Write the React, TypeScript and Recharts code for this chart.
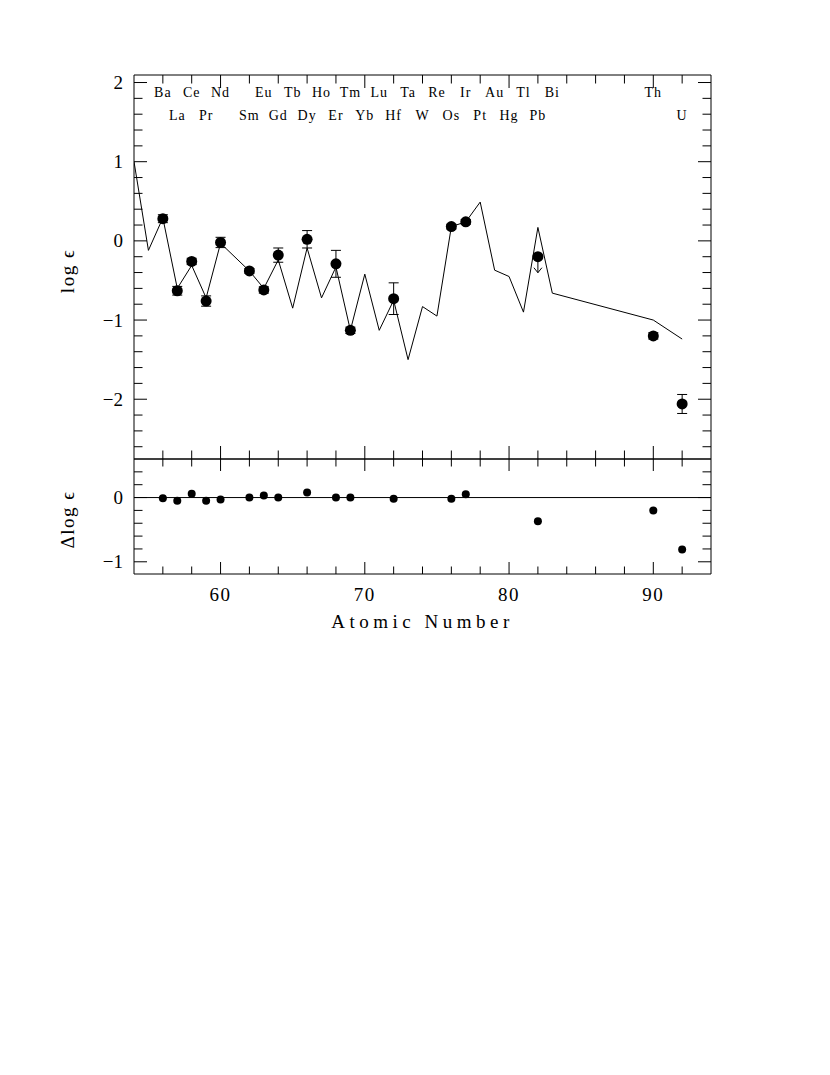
import React from 'react';
import { ComposedChart, Line, Scatter, XAxis, YAxis, ErrorBar, ReferenceLine, Label } from 'recharts';

const FONT = '"Liberation Serif", "DejaVu Serif", serif';

// Scaled solar r-process curve
const solarZ = [54, 55, 56, 57, 58, 59, 60, 62, 63, 64, 65, 66, 67, 68, 69, 70, 71, 72, 73, 74, 75, 76, 77, 78, 79, 80, 81, 82, 83, 90, 92];
const solarVals = [1.0, -0.12, 0.29, -0.6, -0.31, -0.72, -0.03, -0.38, -0.6, -0.24, -0.85, -0.09, -0.72, -0.33, -1.13, -0.42, -1.13, -0.75, -1.5, -0.83, -0.95, 0.18, 0.24, 0.49, -0.37, -0.45, -0.9, 0.17, -0.66, -1.0, -1.24];

// Observed abundances
const obsZ = [56, 57, 58, 59, 60, 62, 63, 64, 66, 68, 69, 72, 76, 77, 90, 92];
const obsVals = [0.28, -0.63, -0.26, -0.76, -0.02, -0.38, -0.62, -0.18, 0.02, -0.29, -1.13, -0.73, 0.18, 0.24, -1.2, -2.06];
const obsErr = [0.05, 0.055, 0.04, 0.065, 0.065, 0.03, 0.04, 0.09, 0.11, 0.17, 0.04, 0.2, 0.03, 0.03, 0.04, 0.12];

// Upper limit
const limitZ = [82];
const limitVals = [-0.2];

// Residuals
const deltaZ = [56, 57, 58, 59, 60, 62, 63, 64, 66, 68, 69, 72, 76, 77, 82, 90, 92];
const deltaVals = [-0.01, -0.05, 0.06, -0.05, -0.03, 0.0, 0.03, 0.0, 0.08, 0.0, 0.0, -0.02, -0.02, 0.05, -0.37, -0.2, -0.81];

// Element name labels
const row1Names = ['Ba', 'Ce', 'Nd', 'Eu', 'Tb', 'Ho', 'Tm', 'Lu', 'Ta', 'Re', 'Ir', 'Au', 'Tl', 'Bi', 'Th'];
const row1Z = [56, 58, 60, 63, 65, 67, 69, 71, 73, 75, 77, 79, 81, 83, 90];
const row2Names = ['La', 'Pr', 'Sm', 'Gd', 'Dy', 'Er', 'Yb', 'Hf', 'W', 'Os', 'Pt', 'Hg', 'Pb', 'U'];
const row2Z = [57, 59, 62, 64, 66, 68, 70, 72, 74, 76, 78, 80, 82, 92];
const row1Y = 1.885;
const row2Y = 1.59;

// Ticks
const xTicks = [56, 58, 60, 62, 64, 66, 68, 70, 72, 74, 76, 78, 80, 82, 84, 86, 88, 90, 92];
const topYTicks = [-2.6, -2.4, -2.2, -2, -1.8, -1.6, -1.4, -1.2, -1, -0.8, -0.6, -0.4, -0.2, 0, 0.2, 0.4, 0.6, 0.8, 1, 1.2, 1.4, 1.6, 1.8, 2];
const botYTicks = [-1, -0.8, -0.6, -0.4, -0.2, 0, 0.2, 0.4];

const xDomain = [54, 94];
const topYDomain = [-2.755, 2.095];
const botYDomain = [-1.19, 0.6];

const solarData = solarZ.map((z, i) => ({ z, y: solarVals[i] }));
const obsData = obsZ.map((z, i) => ({ z, y: obsVals[i], err: obsErr[i] }));
const limitData = limitZ.map((z, i) => ({ z, y: limitVals[i] }));
const deltaData = deltaZ.map((z, i) => ({ z, y: deltaVals[i] }));
const row1Data = row1Z.map((z, i) => ({ z, y: row1Y, name: row1Names[i] }));
const row2Data = row2Z.map((z, i) => ({ z, y: row2Y, name: row2Names[i] }));

const isMajor = (v: number, step: number) => Math.abs(v / step - Math.round(v / step)) < 1e-6;
const fmt = (v: number) => (v < 0 ? '\u2212' + String(Math.abs(v)) : String(v));

type Orient = 'left' | 'right' | 'top' | 'bottom';

const makeTick = (orient: Orient, majorStep: number, showLabel: boolean, majorLen = 13, minorLen = 8.5) => (props: any) => {
  const { x, y, payload } = props;
  const v = payload.value as number;
  const major = isMajor(v, majorStep);
  const len = major ? majorLen : minorLen;
  let x2 = x;
  let y2 = y;
  if (orient === 'left') x2 = x + len;
  if (orient === 'right') x2 = x - len;
  if (orient === 'top') y2 = y + len;
  if (orient === 'bottom') y2 = y - len;
  let label = null;
  if (showLabel && major) {
    if (orient === 'left') {
      label = (
        <text x={x - 11} y={y + 6.5} textAnchor="end" fontFamily={FONT} fontSize={19} fill="#000">
          {fmt(v)}
        </text>
      );
    } else if (orient === 'bottom') {
      label = (
        <text x={x} y={y + 27} textAnchor="middle" fontFamily={FONT} fontSize={19} letterSpacing={1.5} fill="#000">
          {fmt(v)}
        </text>
      );
    }
  }
  return (
    <g>
      <line x1={x} y1={y} x2={x2} y2={y2} stroke="#000" strokeWidth={1} />
      {label}
    </g>
  );
};

const dot = (r: number) => (props: any) => <circle cx={props.cx} cy={props.cy} r={r} fill="#000" />;

const limitShape = (props: any) => {
  const { cx, cy } = props;
  return (
    <g>
      <circle cx={cx} cy={cy} r={5.5} fill="#000" />
      <line x1={cx} y1={cy} x2={cx} y2={cy + 16} stroke="#000" strokeWidth={1} />
      <polyline points={`${cx - 4},${cy + 11} ${cx},${cy + 16} ${cx + 4},${cy + 11}`} fill="none" stroke="#000" strokeWidth={1} />
    </g>
  );
};

const nameShape = (props: any) => (
  <text x={props.cx} y={props.cy + 5} textAnchor="middle" fontFamily={FONT} fontSize={14} letterSpacing={1} fill="#000">
    {props.payload.name}
  </text>
);

const yLabel = (text: string, dyc: number) => (props: any) => {
  const vb = props.viewBox;
  const cx = vb.x + 59;
  const cy = vb.y + vb.height / 2 + dyc;
  return (
    <text x={cx} y={cy} transform={`rotate(-90 ${cx} ${cy})`} textAnchor="middle" dominantBaseline="central" fontFamily={FONT} fontSize={19} letterSpacing={1.5} fill="#000">
      {text}
    </text>
  );
};

const xLabel = (props: any) => {
  const vb = props.viewBox;
  return (
    <text x={vb.x + vb.width / 2} y={vb.y + 54} textAnchor="middle" fontFamily={FONT} fontSize={19} letterSpacing={4.5} fill="#000">
      Atomic Number
    </text>
  );
};

const axisLine = { stroke: '#000', strokeWidth: 1 };

export default function App() {
  return (
    <div style={{ position: 'relative', width: 760, height: 640, fontFamily: FONT }}>
      <div style={{ position: 'absolute', left: 0, top: 0 }}>
        <ComposedChart width={760} height={452} margin={{ top: 66, right: 47, bottom: 0, left: 0 }}>
          <XAxis xAxisId="b" dataKey="z" type="number" domain={xDomain} ticks={xTicks} interval={0} orientation="bottom" height={1}
            allowDataOverflow axisLine={axisLine} tickLine={false} tickSize={0} tickMargin={0} tick={makeTick('bottom', 10, false)} />
          <XAxis xAxisId="t" dataKey="z" type="number" domain={xDomain} ticks={xTicks} interval={0} orientation="top" height={1}
            allowDataOverflow axisLine={axisLine} tickLine={false} tickSize={0} tickMargin={0} tick={makeTick('top', 10, false)} />
          <YAxis yAxisId="l" type="number" domain={topYDomain} ticks={topYTicks} interval={0} orientation="left" width={126}
            allowDataOverflow axisLine={axisLine} tickLine={false} tickSize={0} tickMargin={0} tick={makeTick('left', 1, true)}>
            <Label content={yLabel('log \u03f5', 4)} />
          </YAxis>
          <YAxis yAxisId="r" type="number" domain={topYDomain} ticks={topYTicks} interval={0} orientation="right" width={10}
            allowDataOverflow axisLine={axisLine} tickLine={false} tickSize={0} tickMargin={0} tick={makeTick('right', 1, false)} />
          <Line xAxisId="b" yAxisId="l" data={solarData} dataKey="y" type="linear" stroke="#000" strokeWidth={1} dot={false} activeDot={false} isAnimationActive={false} />
          <Scatter xAxisId="b" yAxisId="l" data={obsData} dataKey="y" shape={dot(5.5)} isAnimationActive={false}>
            <ErrorBar dataKey="err" direction="y" width={5} stroke="#000" strokeWidth={1} isAnimationActive={false} />
          </Scatter>
          <Scatter xAxisId="b" yAxisId="l" data={limitData} dataKey="y" shape={limitShape} isAnimationActive={false} />
          <Scatter xAxisId="t" yAxisId="r" data={row1Data} dataKey="y" shape={nameShape} isAnimationActive={false} />
          <Scatter xAxisId="t" yAxisId="r" data={row2Data} dataKey="y" shape={nameShape} isAnimationActive={false} />
        </ComposedChart>
      </div>
      <div style={{ position: 'absolute', left: 0, top: 440 }}>
        <ComposedChart width={760} height={186} margin={{ top: 10, right: 47, bottom: 0, left: 0 }}>
          <XAxis xAxisId="b" dataKey="z" type="number" domain={xDomain} ticks={xTicks} interval={0} orientation="bottom" height={60}
            allowDataOverflow axisLine={axisLine} tickLine={false} tickSize={0} tickMargin={0} tick={makeTick('bottom', 10, true, 12, 7.5)}>
            <Label content={xLabel} />
          </XAxis>
          <XAxis xAxisId="t" dataKey="z" type="number" domain={xDomain} ticks={xTicks} interval={0} orientation="top" height={1}
            allowDataOverflow axisLine={axisLine} tickLine={false} tickSize={0} tickMargin={0} tick={makeTick('top', 10, false, 12, 7.5)} />
          <YAxis yAxisId="l" type="number" domain={botYDomain} ticks={botYTicks} interval={0} orientation="left" width={126}
            allowDataOverflow axisLine={axisLine} tickLine={false} tickSize={0} tickMargin={0} tick={makeTick('left', 1, true)}>
            <Label content={yLabel('\u0394log \u03f5', 3)} />
          </YAxis>
          <YAxis yAxisId="r" type="number" domain={botYDomain} ticks={botYTicks} interval={0} orientation="right" width={10}
            allowDataOverflow axisLine={axisLine} tickLine={false} tickSize={0} tickMargin={0} tick={makeTick('right', 1, false)} />
          <ReferenceLine xAxisId="b" yAxisId="l" y={0} stroke="#000" strokeWidth={1} />
          <Scatter xAxisId="b" yAxisId="l" data={deltaData} dataKey="y" shape={dot(4)} isAnimationActive={false} />
          <Scatter xAxisId="t" yAxisId="r" data={[]} dataKey="y" isAnimationActive={false} />
        </ComposedChart>
      </div>
    </div>
  );
}
